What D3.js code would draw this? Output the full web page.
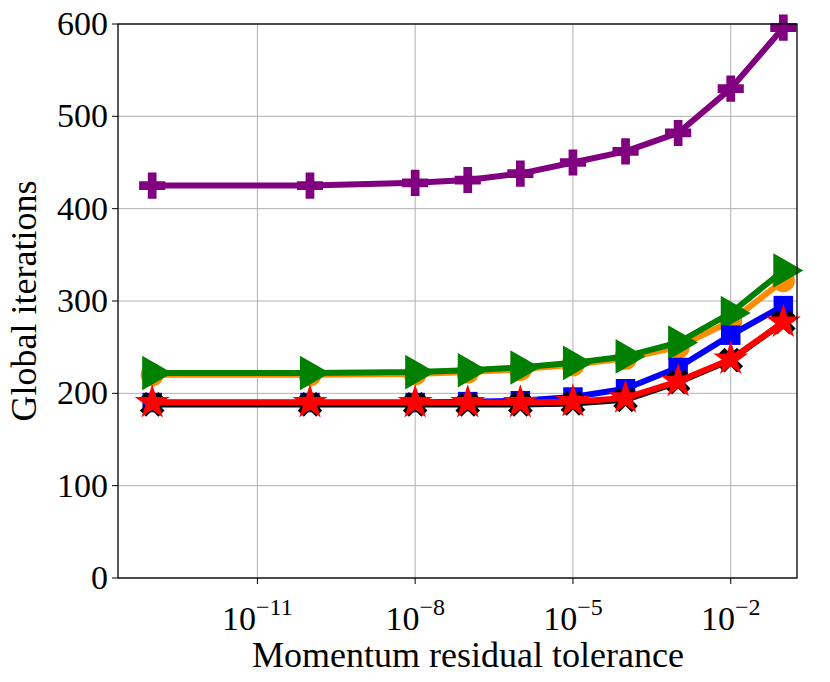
<!DOCTYPE html>
<html><head><meta charset="utf-8">
<script src="https://cdn.jsdelivr.net/npm/d3@7"></script>
<style>body{margin:0;background:#fff}text{font-family:"Liberation Serif","DejaVu Serif",serif}</style>
</head><body><svg id="c" width="830" height="682"></svg>
<script>
const tolerances = [1e-13, 1e-10, 1e-8, 1e-7, 1e-6, 1e-5, 1e-4, 1e-3, 1e-2, 1e-1];
const purple = [425, 425, 428, 431, 438, 450, 462, 482, 530, 596];
const green  = [222, 222, 223, 225, 228, 233, 240, 255, 287, 333];
const orange = [220, 220, 221, 223, 226, 231, 238, 250, 278, 322];
const blue   = [190, 190, 190, 191, 192, 196, 205, 228, 263, 295];
const black  = [188, 188, 188, 188, 188, 189, 193, 212, 236, 277];
const red    = [190, 190, 190, 190, 190, 191, 195, 213, 237, 277];
const xTicks = [-11, -8, -5, -2];
const yTicks = [0, 100, 200, 300, 400, 500, 600];

const svg = d3.select('#c');
const m = {l: 118, r: 797, t: 24, b: 578};
const x = d3.scaleLog().domain([Math.pow(10, -13.65), Math.pow(10, -0.74)]).range([m.l, m.r]);
const y = d3.scaleLinear().domain([0, 600]).range([m.b, m.t]);

// grid
svg.append('g').selectAll('line').data(xTicks).join('line')
    .attr('x1', d => x(Math.pow(10, d))).attr('x2', d => x(Math.pow(10, d)))
    .attr('y1', m.t).attr('y2', m.b).attr('stroke', '#b0b0b0').attr('stroke-width', 1);
svg.append('g').selectAll('line').data(yTicks).join('line')
    .attr('x1', m.l).attr('x2', m.r).attr('y1', d => y(d)).attr('y2', d => y(d))
    .attr('stroke', '#b0b0b0').attr('stroke-width', 1);

const line = d3.line().x((d, i) => x(tolerances[i])).y(d => y(d));

const series = [
    {v: purple, c: '#800080', sym: d3.symbolCross, size: 380, rot: 0},
    {v: orange, c: '#ff8c00', sym: d3.symbolCircle, size: 420, rot: 0},
    {v: green, c: '#008000', sym: d3.symbolTriangle, size: 520, rot: 90},
    {v: blue, c: '#0000ff', sym: d3.symbolSquare, size: 380, rot: 0},
    {v: black, c: '#000000', sym: d3.symbolCross, size: 380, rot: 45},
    {v: red, c: '#ff0000', sym: d3.symbolStar, size: 380, rot: 0}
];

series.forEach(s => {
    svg.append('path').datum(s.v).attr('d', line).attr('fill', 'none')
        .attr('stroke', s.c).attr('stroke-width', 6).attr('stroke-linejoin', 'round');
    svg.append('g').selectAll('path').data(s.v).join('path')
        .attr('d', d3.symbol().type(s.sym).size(s.size))
        .attr('transform', (d, i) => `translate(${x(tolerances[i])},${y(d)}) rotate(${s.rot})`)
        .attr('fill', s.c);
});

// frame
svg.append('rect').attr('x', m.l).attr('y', m.t).attr('width', m.r - m.l).attr('height', m.b - m.t)
    .attr('fill', 'none').attr('stroke', '#000').attr('stroke-width', 1.3);

// axes ticks
svg.append('g').selectAll('line').data(yTicks).join('line')
    .attr('x1', m.l - 6).attr('x2', m.l).attr('y1', d => y(d)).attr('y2', d => y(d)).attr('stroke', '#000');
svg.append('g').selectAll('text').data(yTicks).join('text')
    .attr('x', m.l - 10).attr('y', d => y(d) + 11).attr('text-anchor', 'end')
    .attr('font-size', 34).text(d => d);

svg.append('g').selectAll('line').data(xTicks).join('line')
    .attr('x1', d => x(Math.pow(10, d))).attr('x2', d => x(Math.pow(10, d)))
    .attr('y1', m.b).attr('y2', m.b + 6).attr('stroke', '#000');
const xl = svg.append('g').selectAll('text').data(xTicks).join('text')
    .attr('x', d => x(Math.pow(10, d))).attr('y', 630).attr('text-anchor', 'middle').attr('font-size', 34);
xl.append('tspan').text('10');
xl.append('tspan').attr('dy', -15).attr('font-size', 24).text(d => '\u2212' + Math.abs(d));

svg.append('text').attr('x', 468).attr('y', 667).attr('text-anchor', 'middle')
    .attr('font-size', 36).text('Momentum residual tolerance');
svg.append('text').attr('transform', 'translate(36,301) rotate(-90)').attr('text-anchor', 'middle')
    .attr('font-size', 36).text('Global iterations');
</script></body></html>
